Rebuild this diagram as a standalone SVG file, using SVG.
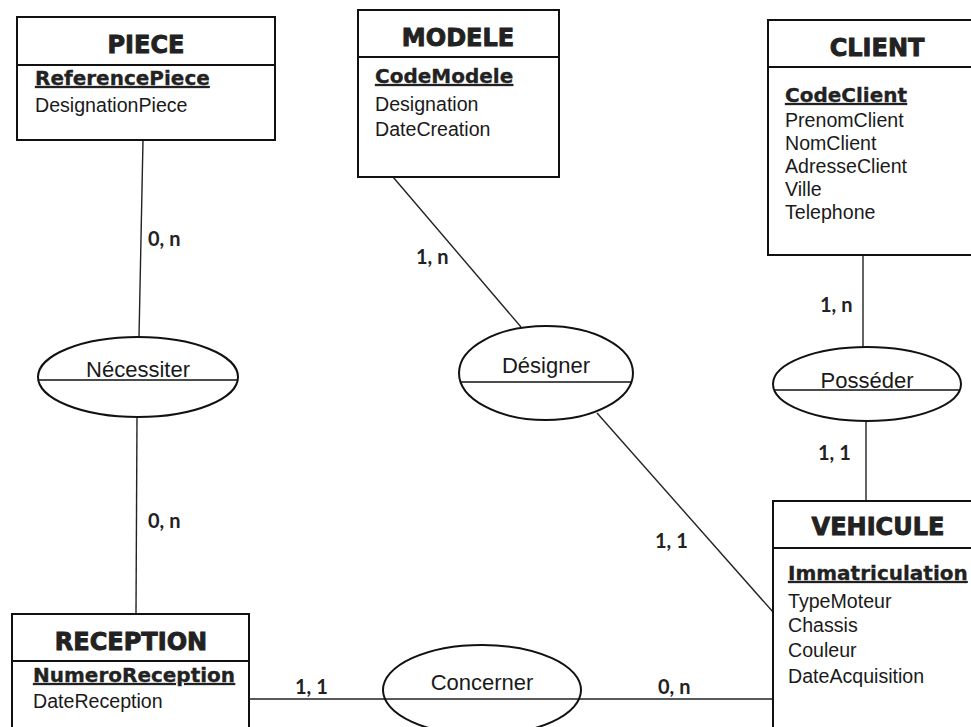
<svg xmlns="http://www.w3.org/2000/svg" width="971" height="727" viewBox="0 0 971 727">
<style>
.box{fill:#fff;stroke:#111;stroke-width:2}
.div{stroke:#111;stroke-width:2}
.ell{fill:#fff;stroke:#111;stroke-width:2}
.con{stroke:#222;stroke-width:1.4;fill:none}
.title{font-family:"DejaVu Sans",sans-serif;font-weight:bold;font-size:24px;fill:#222;stroke:#222;stroke-width:0.9;text-anchor:middle}
.key{font-family:"DejaVu Sans",sans-serif;font-weight:bold;font-size:20px;fill:#222;stroke:#222;stroke-width:0.3;text-decoration:underline}
.att{font-family:"Liberation Sans",Arial,sans-serif;font-size:19.6px;fill:#1a1a1a}
.rel{font-family:"Liberation Sans",Arial,sans-serif;font-size:22px;fill:#1a1a1a;text-anchor:middle}
.card{font-family:Lato,"Open Sans",sans-serif;font-weight:bold;font-size:20px;fill:#222}
</style>
<rect width="971" height="727" fill="#fff"/>
<g id="connectors">
<line class="con" x1="143" y1="140" x2="139" y2="337"/>
<line class="con" x1="137" y1="417" x2="136" y2="614"/>
<line class="con" x1="393" y1="177" x2="521" y2="327"/>
<line class="con" x1="597" y1="413" x2="773" y2="612"/>
<line class="con" x1="863" y1="255" x2="863" y2="347"/>
<line class="con" x1="866" y1="421" x2="866" y2="501"/>
<line class="con" x1="249" y1="699" x2="773" y2="699"/>
<text class="card" x="148" y="246">0, n</text>
<text class="card" x="148" y="528">0, n</text>
<text class="card" x="416" y="264">1, n</text>
<text class="card" x="655" y="548">1, 1</text>
<text class="card" x="820" y="312">1, n</text>
<text class="card" x="818" y="460">1, 1</text>
<text class="card" x="295" y="694">1, 1</text>
<text class="card" x="658" y="694">0, n</text>
</g>
<g id="piece">
<rect class="box" x="17" y="17" width="258" height="123"/>
<line class="div" x1="17" y1="65" x2="275" y2="65"/>
<text class="title" x="146" y="53">PIECE</text>
<text class="key" x="35" y="85">ReferencePiece</text>
<text class="att" x="35" y="112">DesignationPiece</text>
</g>
<g id="modele">
<rect class="box" x="358" y="10" width="201" height="167"/>
<line class="div" x1="358" y1="57" x2="559" y2="57"/>
<text class="title" x="458" y="46">MODELE</text>
<text class="key" x="375" y="83">CodeModele</text>
<text class="att" x="375" y="111">Designation</text>
<text class="att" x="375" y="136">DateCreation</text>
</g>
<g id="client">
<rect class="box" x="768" y="20" width="230" height="235"/>
<line class="div" x1="768" y1="67" x2="998" y2="67"/>
<text class="title" x="877" y="56">CLIENT</text>
<text class="key" x="785" y="102">CodeClient</text>
<text class="att" x="785" y="127">PrenomClient</text>
<text class="att" x="785" y="150">NomClient</text>
<text class="att" x="785" y="173">AdresseClient</text>
<text class="att" x="785" y="196">Ville</text>
<text class="att" x="785" y="219">Telephone</text>
</g>
<g id="vehicule">
<rect class="box" x="773" y="501" width="230" height="240"/>
<line class="div" x1="773" y1="548" x2="1003" y2="548"/>
<text class="title" x="878" y="535">VEHICULE</text>
<text class="key" x="788" y="580">Immatriculation</text>
<text class="att" x="788" y="608">TypeMoteur</text>
<text class="att" x="788" y="632">Chassis</text>
<text class="att" x="788" y="657">Couleur</text>
<text class="att" x="788" y="683">DateAcquisition</text>
</g>
<g id="reception">
<rect class="box" x="12" y="614" width="237" height="130"/>
<line class="div" x1="12" y1="661" x2="249" y2="661"/>
<text class="title" x="131" y="650">RECEPTION</text>
<text class="key" x="33" y="682">NumeroReception</text>
<text class="att" x="33" y="708">DateReception</text>
</g>
<g id="necessiter">
<ellipse class="ell" cx="138" cy="377" rx="100" ry="40"/>
<line class="div" x1="38" y1="380" x2="238" y2="380" style="stroke-width:1.5"/>
<text class="rel" x="138" y="377">Nécessiter</text>
</g>
<g id="designer">
<ellipse class="ell" cx="546" cy="373" rx="87" ry="47"/>
<line class="div" x1="460" y1="382" x2="632" y2="382" style="stroke-width:1.5"/>
<text class="rel" x="546" y="373">Désigner</text>
</g>
<g id="posseder">
<ellipse class="ell" cx="867" cy="384" rx="94" ry="37"/>
<line class="div" x1="774" y1="390" x2="960" y2="390" style="stroke-width:1.5"/>
<text class="rel" x="867" y="388">Posséder</text>
</g>
<g id="concerner">
<ellipse class="ell" cx="482" cy="690" rx="99" ry="45" style="fill:none"/>
<text class="rel" x="482" y="690">Concerner</text>
</g>
</svg>
